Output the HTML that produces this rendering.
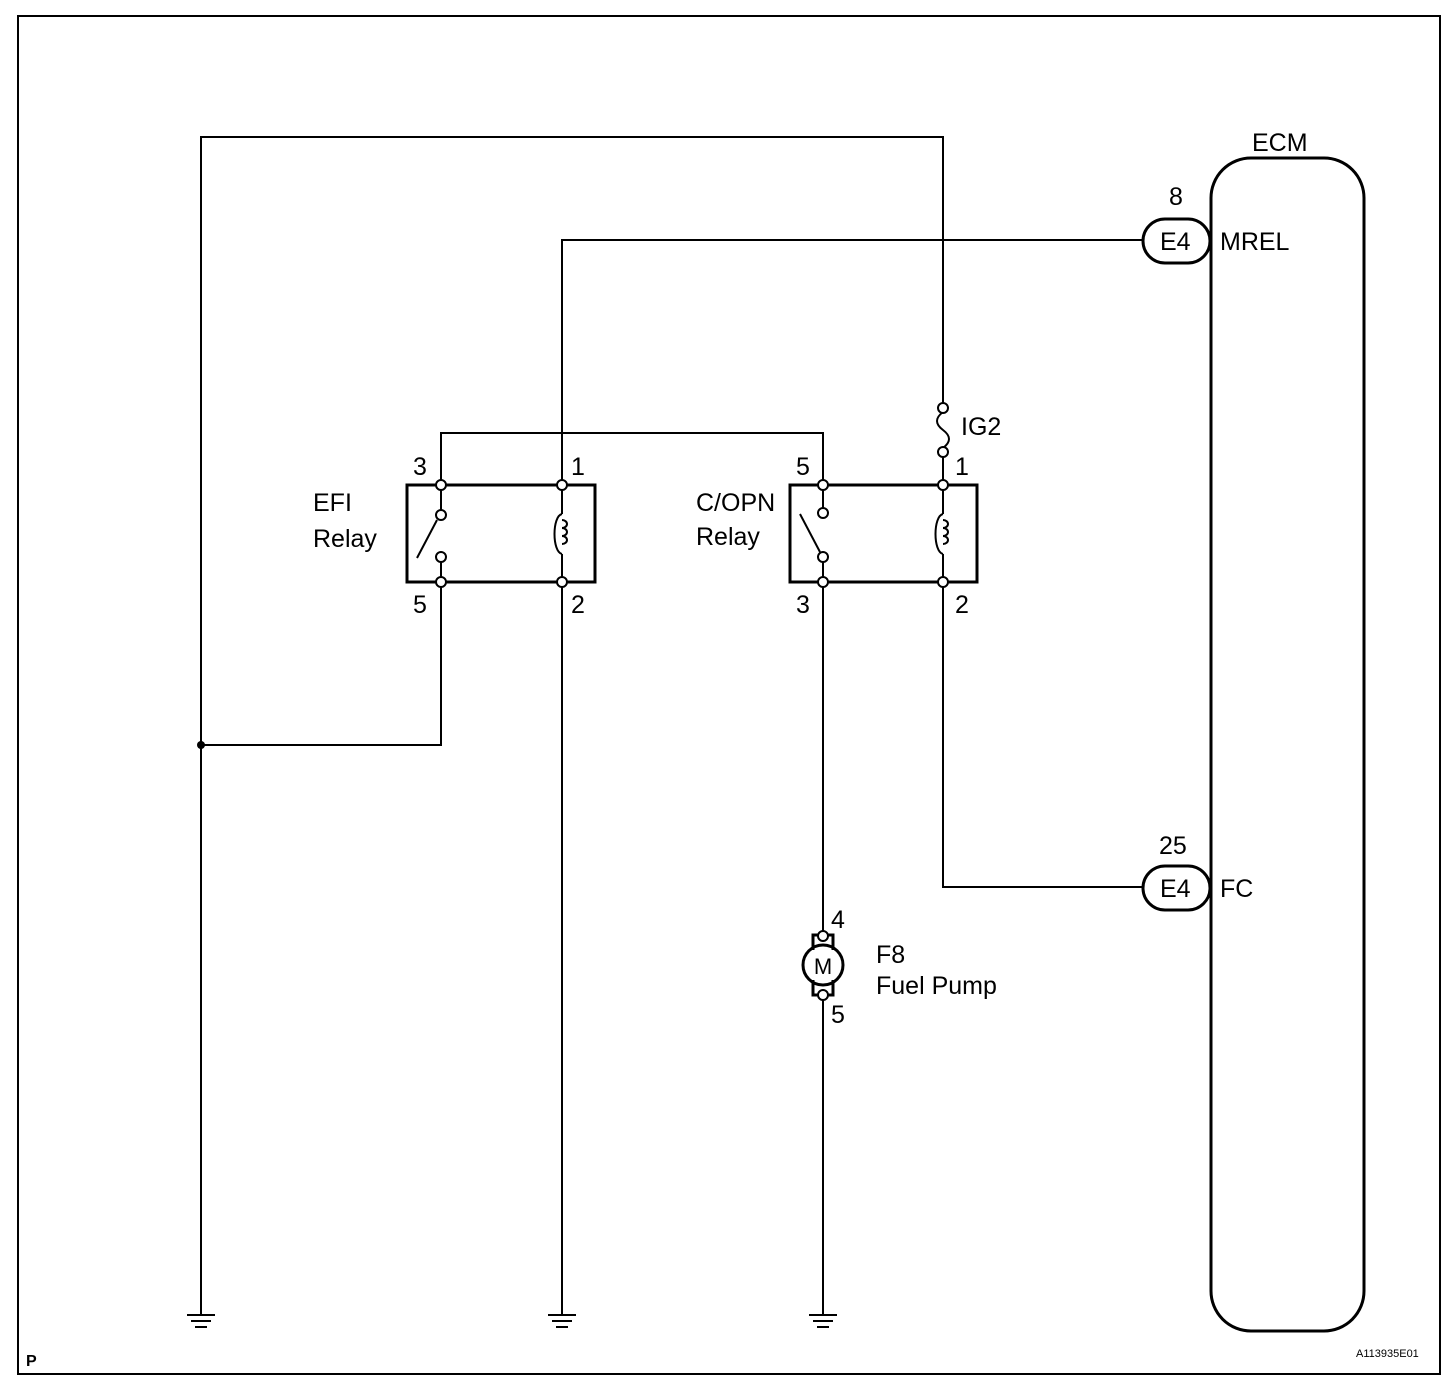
<!DOCTYPE html>
<html><head><style>body{margin:0;background:#fff}svg{display:block}text{font-family:"Liberation Sans",Arial,sans-serif;fill:#000}</style></head>
<body>
<svg width="1456" height="1380" viewBox="0 0 1456 1380" xmlns="http://www.w3.org/2000/svg">
<rect x="18" y="16" width="1422" height="1358" fill="none" stroke="#000" stroke-width="2"/>
<g fill="none" stroke="#000" stroke-width="2">
<polyline points="201,1315 201,137 943,137 943,404"/>
<polyline points="943,456 943,481"/>
<polyline points="562,481 562,240 1143,240"/>
<polyline points="562,586 562,1315"/>
<polyline points="441,481 441,433 823,433 823,481"/>
<polyline points="441,586 441,745 201,745"/>
<polyline points="823,586 823,931"/>
<polyline points="823,999 823,1315"/>
<polyline points="943,586 943,887 1143,887"/>
<path d="M943,412 C935,418 935,424 943,430 C951,436 951,442 943,448"/>
<g stroke-width="2">
<line x1="187" y1="1315" x2="215" y2="1315"/><line x1="191" y1="1321" x2="211" y2="1321"/><line x1="195" y1="1327" x2="207" y2="1327"/>
<line x1="548" y1="1315" x2="576" y2="1315"/><line x1="552" y1="1321" x2="572" y2="1321"/><line x1="556" y1="1327" x2="568" y2="1327"/>
<line x1="809" y1="1315" x2="837" y2="1315"/><line x1="813" y1="1321" x2="833" y2="1321"/><line x1="817" y1="1327" x2="829" y2="1327"/>
</g>
</g>
<circle cx="201" cy="745" r="4" fill="#000"/>
<g fill="none" stroke="#000" stroke-width="3">
<rect x="407" y="485" width="188" height="97"/>
<rect x="790" y="485" width="187" height="97"/>
</g>
<g fill="none" stroke="#000" stroke-width="2">
<line x1="441" y1="489" x2="441" y2="510"/>
<line x1="441" y1="562" x2="441" y2="578"/>
<line x1="437" y1="520" x2="417" y2="558"/>
<line x1="823" y1="489" x2="823" y2="508"/>
<line x1="823" y1="562" x2="823" y2="578"/>
<line x1="800" y1="514" x2="820" y2="552"/>
<line x1="562" y1="489" x2="562" y2="514"/><line x1="562" y1="554" x2="562" y2="578"/>
<path d="M562,514 C552,516 552,552 562,554 M562,520 a5,4 0 1 1 0,8 a5,4 0 1 1 0,8 a5,4 0 1 1 0,8"/>
<line x1="943" y1="489" x2="943" y2="514"/><line x1="943" y1="554" x2="943" y2="578"/>
<path d="M943,514 C933,516 933,552 943,554 M943,520 a5,4 0 1 1 0,8 a5,4 0 1 1 0,8 a5,4 0 1 1 0,8"/>
<circle cx="823" cy="965" r="20" stroke-width="3"/>
<path d="M813,950 L813,935 L819,935 M833,950 L833,935 L827,935 M813,980 L813,995 L819,995 M833,980 L833,995 L827,995" stroke-width="3"/>
</g>
<g fill="#fff" stroke="#000" stroke-width="2">
<circle cx="441" cy="485" r="5"/><circle cx="562" cy="485" r="5"/><circle cx="441" cy="582" r="5"/><circle cx="562" cy="582" r="5"/>
<circle cx="441" cy="515" r="5"/><circle cx="441" cy="557" r="5"/>
<circle cx="823" cy="485" r="5"/><circle cx="943" cy="485" r="5"/><circle cx="823" cy="582" r="5"/><circle cx="943" cy="582" r="5"/>
<circle cx="823" cy="513" r="5"/><circle cx="823" cy="557" r="5"/>
<circle cx="943" cy="408" r="5"/><circle cx="943" cy="452" r="5"/>
<circle cx="823" cy="936" r="5"/><circle cx="823" cy="995" r="5"/>
</g>
<text x="823" y="974" font-size="22" text-anchor="middle">M</text>
<rect x="1211" y="158" width="153" height="1173" rx="40" fill="none" stroke="#000" stroke-width="3"/>
<rect x="1143" y="219" width="67" height="44" rx="22" fill="#fff" stroke="#000" stroke-width="3"/>
<rect x="1143" y="866" width="67" height="44" rx="22" fill="#fff" stroke="#000" stroke-width="3"/>
<g font-size="25">
<text x="1252" y="151">ECM</text>
<text x="1169" y="205">8</text>
<text x="1160" y="250">E4</text>
<text x="1220" y="250">MREL</text>
<text x="1159" y="854">25</text>
<text x="1160" y="897">E4</text>
<text x="1220" y="897">FC</text>
<text x="961" y="435">IG2</text>
<text x="955" y="475">1</text>
<text x="955" y="613">2</text>
<text x="796" y="475">5</text>
<text x="796" y="613">3</text>
<text x="696" y="511">C/OPN</text>
<text x="696" y="545">Relay</text>
<text x="413" y="475">3</text>
<text x="413" y="613">5</text>
<text x="571" y="475">1</text>
<text x="571" y="613">2</text>
<text x="313" y="511">EFI</text>
<text x="313" y="547">Relay</text>
<text x="831" y="928">4</text>
<text x="831" y="1023">5</text>
<text x="876" y="963">F8</text>
<text x="876" y="994">Fuel Pump</text>
</g>
<text x="26" y="1366" font-size="16" font-weight="bold">P</text>
<text x="1356" y="1357" font-size="11">A113935E01</text>
</svg>
</body></html>
